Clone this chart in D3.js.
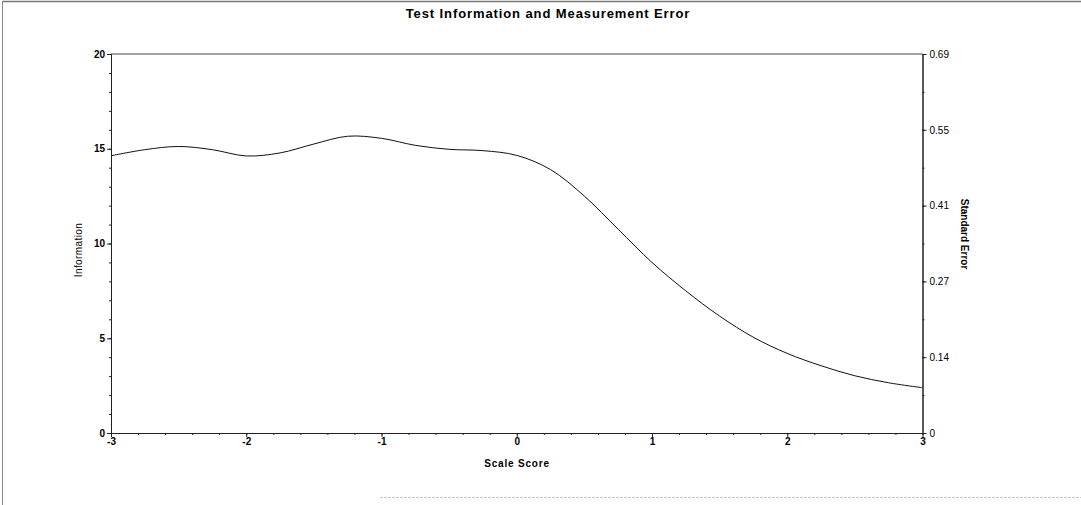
<!DOCTYPE html>
<html>
<head>
<meta charset="utf-8">
<script src="https://cdn.jsdelivr.net/npm/d3@7"></script>
<style>
  body { margin: 0; background: #fff; }
  svg { font-family: "Liberation Sans", Arial, sans-serif; }
</style>
</head>
<body>
<svg id="chart" width="1081" height="505"></svg>
<script>
const scores = [-3, -2.75, -2.5, -2.25, -2, -1.75, -1.5, -1.25, -1, -0.75, -0.5, -0.25,
  0, 0.25, 0.5, 0.75, 1, 1.25, 1.5, 1.75, 2, 2.25, 2.5, 2.75, 3]
const information = [14.63, 14.95, 15.12, 14.95, 14.62, 14.78, 15.25, 15.66, 15.55, 15.18, 14.97, 14.9,
  14.65, 13.9, 12.5, 10.75, 9.0, 7.5, 6.17, 5.05, 4.2, 3.55, 3.02, 2.65, 2.39]

const xTicks = [-3, -2, -1, 0, 1, 2, 3]
const infoTicks = [0, 5, 10, 15, 20]
const seTickLabels = ['0', '0.14', '0.27', '0.41', '0.55', '0.69']

const svg = d3.select('#chart')
const mLeft = 111, mRight = 922.5, mTop = 54, mBottom = 433

const x = d3.scaleLinear().domain([-3, 3]).range([mLeft, mRight])
const y = d3.scaleLinear().domain([0, 20]).range([mBottom, mTop])
const ySe = d3.scaleLinear().domain([0, seTickLabels.length - 1]).range([mBottom, mTop])

// outer frame
svg.append('line').attr('x1', 2.5).attr('x2', 1081).attr('y1', 1.5).attr('y2', 1.5)
  .attr('stroke', '#777').attr('stroke-width', 1.5)
svg.append('line').attr('x1', 2.5).attr('x2', 2.5).attr('y1', 1).attr('y2', 505)
  .attr('stroke', '#888').attr('stroke-width', 1)
svg.append('line').attr('x1', 380).attr('x2', 1081).attr('y1', 497.5).attr('y2', 497.5)
  .attr('stroke', '#ccc').attr('stroke-width', 1).attr('stroke-dasharray', '3,1')

svg.append('text')
  .attr('x', 548).attr('y', 18)
  .attr('text-anchor', 'middle')
  .attr('font-size', '13px').attr('font-weight', 'bold')
  .attr('letter-spacing', '0.9px')
  .text('Test Information and Measurement Error')

// top border of plot
svg.append('line').attr('x1', mLeft).attr('x2', mRight).attr('y1', mTop).attr('y2', mTop)
  .attr('stroke', '#444').attr('stroke-width', 1)

const fmtAxis = (g) => {
  g.select('.domain').attr('stroke', '#222')
  g.selectAll('.tick line').attr('stroke', '#222')
}

// x axis: minor then major ticks
svg.append('g')
  .attr('transform', `translate(0,${mBottom})`)
  .call(d3.axisBottom(x).tickValues(d3.range(-3, 3.01, 0.2)).tickSize(2).tickFormat(''))
  .call(fmtAxis)
svg.append('g')
  .attr('transform', `translate(0,${mBottom})`)
  .call(d3.axisBottom(x).tickValues(xTicks).tickSize(4).tickSizeOuter(0).tickPadding(1)
    .tickFormat(d => String(d)))
  .call(fmtAxis)
  .call(g => g.selectAll('text').attr('font-size', '10px').attr('font-weight', 'bold').attr('fill', '#000'))

svg.append('g')
  .attr('transform', `translate(${mLeft},0)`)
  .call(d3.axisLeft(y).tickValues(d3.range(0, 21, 1)).tickSize(2).tickFormat(''))
  .call(fmtAxis)
svg.append('g')
  .attr('transform', `translate(${mLeft},0)`)
  .call(d3.axisLeft(y).tickValues(infoTicks).tickSize(4).tickSizeOuter(0).tickPadding(2))
  .call(fmtAxis)
  .call(g => g.selectAll('text').attr('font-size', '10px').attr('font-weight', 'bold').attr('fill', '#000'))

svg.append('g')
  .attr('transform', `translate(${mRight},0)`)
  .call(d3.axisRight(ySe).tickValues(d3.range(0, 5.01, 0.5)).tickSize(2).tickFormat(''))
  .call(fmtAxis)
svg.append('g')
  .attr('transform', `translate(${mRight},0)`)
  .call(d3.axisRight(ySe).tickValues(d3.range(seTickLabels.length)).tickSize(4).tickSizeOuter(0)
    .tickPadding(3).tickFormat(i => seTickLabels[i]))
  .call(fmtAxis)
  .call(g => g.selectAll('text').attr('font-size', '10px').attr('fill', '#000'))

// axis titles
svg.append('text')
  .attr('transform', 'translate(82,250) rotate(-90)')
  .attr('text-anchor', 'middle')
  .attr('font-size', '10px')
  .attr('letter-spacing', '0.4px')
  .text('Information')
svg.append('text')
  .attr('transform', 'translate(961,234) rotate(90)')
  .attr('text-anchor', 'middle')
  .attr('font-size', '10px').attr('font-weight', 'bold')
  .text('Standard Error')
svg.append('text')
  .attr('x', 517).attr('y', 467)
  .attr('text-anchor', 'middle')
  .attr('font-size', '10px').attr('font-weight', 'bold')
  .attr('letter-spacing', '0.8px')
  .text('Scale Score')

const line = d3.line()
  .x((d, i) => x(scores[i]))
  .y(d => y(d))
  .curve(d3.curveCatmullRom)

svg.append('path')
  .datum(information)
  .attr('d', line)
  .attr('fill', 'none')
  .attr('stroke', '#111')
  .attr('stroke-width', 1)
</script>
</body>
</html>
